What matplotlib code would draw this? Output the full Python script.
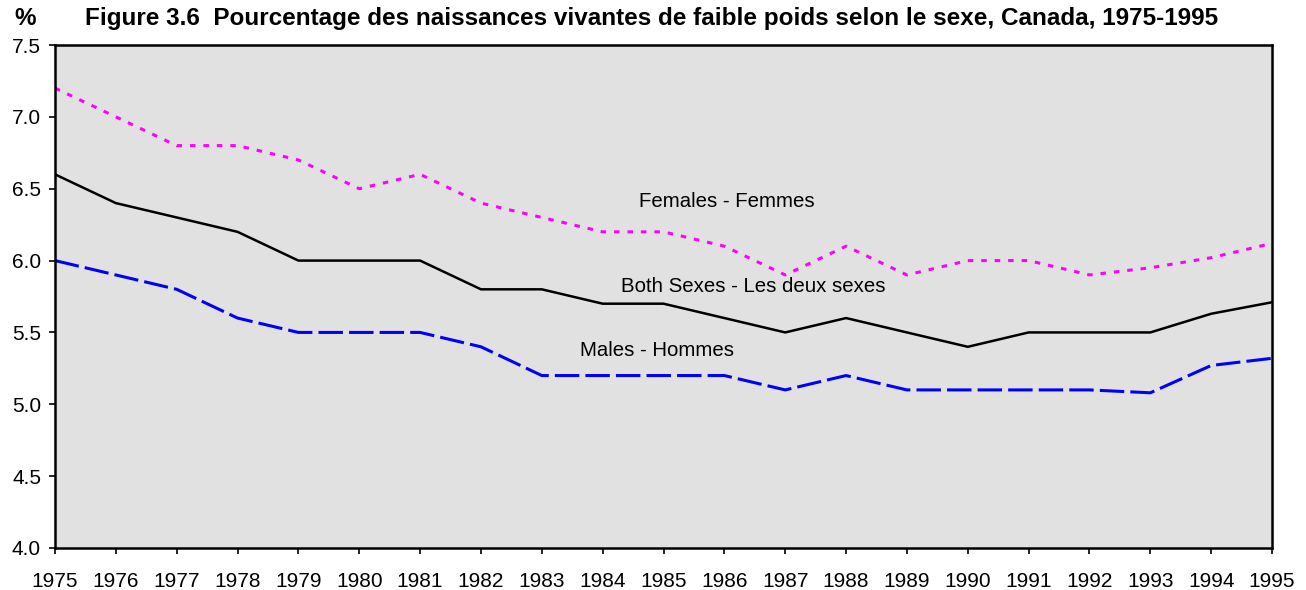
import matplotlib
matplotlib.use("Agg")
import matplotlib.pyplot as plt
from matplotlib.ticker import FormatStrFormatter

# data
years = list(range(1975, 1996))
females = [7.2, 7.0, 6.8, 6.8, 6.7, 6.5, 6.6, 6.4, 6.3, 6.2, 6.2,
           6.1, 5.9, 6.1, 5.9, 6.0, 6.0, 5.9, 5.95, 6.02, 6.12]
both = [6.6, 6.4, 6.3, 6.2, 6.0, 6.0, 6.0, 5.8, 5.8, 5.7, 5.7,
        5.6, 5.5, 5.6, 5.5, 5.4, 5.5, 5.5, 5.5, 5.63, 5.71]
males = [6.0, 5.9, 5.8, 5.6, 5.5, 5.5, 5.5, 5.4, 5.2, 5.2, 5.2,
         5.2, 5.1, 5.2, 5.1, 5.1, 5.1, 5.1, 5.08, 5.27, 5.32]

title = "Figure 3.6  Pourcentage des naissances vivantes de faible poids selon le sexe, Canada, 1975-1995"

plt.rcParams["font.family"] = ["Liberation Sans", "DejaVu Sans"]

fig = plt.figure(figsize=(13.06, 5.9), dpi=100)
ax = fig.add_axes([0.0421, 0.0712, 0.9319, 0.8525])
ax.set_facecolor("#e1e1e1")

ax.plot(years, females, color="#ff00ff", lw=2.2, linestyle=(0, (1.8, 2.6)))
ax.plot(years, both, color="black", lw=1.8)
ax.plot(years, males, color="#0000ff", lw=2.2, linestyle=(0, (8, 2)))

ax.text(1984.6, 6.41, "Females - Femmes", fontsize=14.7, va="center")
ax.text(1984.3, 5.82, "Both Sexes - Les deux sexes", fontsize=14.7, va="center")
ax.text(1983.63, 5.375, "Males - Hommes", fontsize=14.7, va="center")

ax.set_xlim(1975, 1995)
ax.set_ylim(4.0, 7.5)
ax.set_xticks(years)
ax.set_yticks([4.0, 4.5, 5.0, 5.5, 6.0, 6.5, 7.0, 7.5])
ax.yaxis.set_major_formatter(FormatStrFormatter("%.1f"))
ax.tick_params(direction="out", length=4, width=1.2, labelsize=15)
ax.tick_params(axis="y", pad=6)
ax.tick_params(axis="x", pad=13)
for s in ax.spines.values():
    s.set_linewidth(1.8)
    s.set_color("black")

fig.text(0.499, 0.969, title, fontsize=17.5, fontweight="bold", ha="center", va="center")
fig.text(0.019, 0.969, "%", fontsize=17.5, fontweight="bold", ha="center", va="center")

fig.savefig("out.png", dpi=100)
